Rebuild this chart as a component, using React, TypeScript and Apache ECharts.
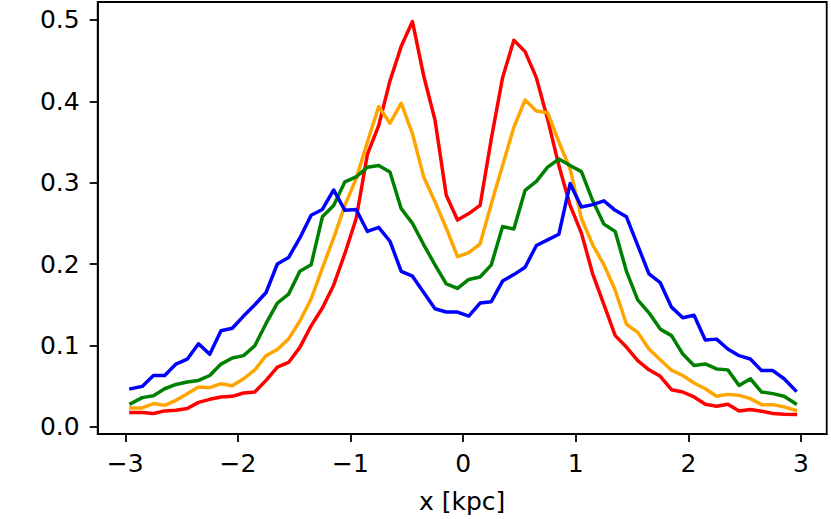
import React, { useEffect, useRef } from "react";
import * as echarts from "echarts";

const xCenters = [
  -2.95, -2.85, -2.75, -2.65, -2.55, -2.45, -2.35, -2.25, -2.15, -2.05,
  -1.95, -1.85, -1.75, -1.65, -1.55, -1.45, -1.35, -1.25, -1.15, -1.05,
  -0.95, -0.85, -0.75, -0.65, -0.55, -0.45, -0.35, -0.25, -0.15, -0.05,
  0.05, 0.15, 0.25, 0.35, 0.45, 0.55, 0.65, 0.75, 0.85, 0.95,
  1.05, 1.15, 1.25, 1.35, 1.45, 1.55, 1.65, 1.75, 1.85, 1.95,
  2.05, 2.15, 2.25, 2.35, 2.45, 2.55, 2.65, 2.75, 2.85, 2.95,
];

const redValues = [
  0.0175, 0.0175, 0.0163, 0.0195, 0.0203, 0.0224, 0.03, 0.0337, 0.0366, 0.0374,
  0.0415, 0.0427, 0.057, 0.0732, 0.079, 0.0976, 0.124, 0.146, 0.174, 0.213,
  0.256, 0.335, 0.37, 0.425, 0.4675, 0.498, 0.431, 0.377, 0.2845, 0.254,
  0.262, 0.272, 0.354, 0.429, 0.475, 0.461, 0.429, 0.378, 0.321, 0.272,
  0.238, 0.188, 0.15, 0.112, 0.098, 0.0813, 0.07, 0.062, 0.0455, 0.0427,
  0.0366, 0.0276, 0.0252, 0.0276, 0.0195, 0.0211, 0.0191, 0.0163, 0.0154, 0.015,
];

const orangeValues = [
  0.0232, 0.0232, 0.0285, 0.0264, 0.0325, 0.0407, 0.0488, 0.048, 0.0529, 0.0504,
  0.059, 0.07, 0.0874, 0.095, 0.108, 0.13, 0.157, 0.195, 0.232, 0.272,
  0.305, 0.35, 0.3935, 0.373, 0.3976, 0.36, 0.307, 0.2764, 0.244, 0.209,
  0.214, 0.2246, 0.274, 0.321, 0.368, 0.4016, 0.388, 0.386, 0.35, 0.317,
  0.256, 0.2236, 0.199, 0.1677, 0.126, 0.116, 0.0955, 0.0823, 0.0695, 0.063,
  0.0537, 0.0467, 0.0374, 0.0398, 0.0386, 0.0346, 0.0272, 0.0272, 0.0244, 0.0203,
];

const greenValues = [
  0.0285, 0.0358, 0.0382, 0.0467, 0.052, 0.0549, 0.0569, 0.063, 0.077, 0.0846,
  0.0874, 0.0996, 0.127, 0.152, 0.163, 0.191, 0.199, 0.258, 0.272, 0.301,
  0.307, 0.319, 0.321, 0.313, 0.268, 0.25, 0.2236, 0.199, 0.1756, 0.17,
  0.181, 0.184, 0.199, 0.246, 0.243, 0.2906, 0.3016, 0.319, 0.329, 0.321,
  0.3135, 0.278, 0.249, 0.24, 0.191, 0.156, 0.14, 0.12, 0.112, 0.0894,
  0.0752, 0.0772, 0.0711, 0.0699, 0.0508, 0.059, 0.0427, 0.0407, 0.0374, 0.0285,
];

const blueValues = [
  0.0467, 0.0496, 0.063, 0.063, 0.077, 0.083, 0.102, 0.089, 0.118, 0.121,
  0.136, 0.15, 0.165, 0.2, 0.208, 0.232, 0.26, 0.267, 0.291, 0.266,
  0.267, 0.24, 0.245, 0.228, 0.191, 0.185, 0.165, 0.145, 0.141, 0.141,
  0.136, 0.152, 0.1537, 0.179, 0.187, 0.196, 0.2228, 0.2296, 0.2366, 0.2988,
  0.27, 0.273, 0.2777, 0.266, 0.258, 0.2228, 0.188, 0.177, 0.147, 0.134,
  0.137, 0.1065, 0.1077, 0.0955, 0.0874, 0.0833, 0.069, 0.069, 0.059, 0.0447,
];

const xTicks = [-3, -2, -1, 0, 1, 2, 3];
const yTicks = [0, 0.1, 0.2, 0.3, 0.4, 0.5];

const seriesDefs = [
  { name: "red", color: "#ff0000", values: redValues },
  { name: "orange", color: "#ffa500", values: orangeValues },
  { name: "green", color: "#008000", values: greenValues },
  { name: "blue", color: "#0000ff", values: blueValues },
];

const FONT = "'DejaVu Sans', sans-serif";
const FS = 25;

export default function App() {
  const ref = useRef<HTMLDivElement>(null);
  useEffect(() => {
    if (!ref.current) return;
    const chart = echarts.init(ref.current, undefined, { renderer: "svg" });
    const option = {
      animation: false,
      backgroundColor: "#ffffff",
      grid: {
        left: 97.7,
        right: 4.3,
        top: 2,
        bottom: 81.7,
        show: true,
        borderColor: "#000",
        borderWidth: 1.8,
        backgroundColor: "transparent",
      },
      xAxis: {
        type: "value",
        min: -3.245,
        max: 3.228,
        splitLine: { show: false },
        axisLine: { show: true, onZero: false, lineStyle: { color: "#000", width: 1.8 } },
        axisTick: {
          show: true,
          length: 8,
          customValues: xTicks,
          lineStyle: { color: "#000", width: 1.8 },
        },
        axisLabel: {
          customValues: xTicks,
          fontFamily: FONT,
          fontSize: FS,
          color: "#000",
          margin: 17,
          formatter: (v: number) => (v < 0 ? "\u2212" + Math.abs(v) : String(v)),
        },
        name: "x [kpc]",
        nameLocation: "middle",
        nameGap: 55,
        nameTextStyle: { fontFamily: FONT, fontSize: FS, color: "#000" },
      },
      yAxis: {
        type: "value",
        min: -0.0089,
        max: 0.522,
        splitLine: { show: false },
        axisLine: { show: true, onZero: false, lineStyle: { color: "#000", width: 1.8 } },
        axisTick: {
          show: true,
          length: 8,
          customValues: yTicks,
          lineStyle: { color: "#000", width: 1.8 },
        },
        axisLabel: {
          customValues: yTicks,
          fontFamily: FONT,
          fontSize: FS,
          color: "#000",
          margin: 18,
          formatter: (v: number) => v.toFixed(1),
        },
      },
      series: seriesDefs.map((s) => ({
        name: s.name,
        type: "line",
        showSymbol: false,
        symbol: "none",
        data: xCenters.map((x, i) => [x, s.values[i]]),
        lineStyle: { color: s.color, width: 3.5, join: "round", cap: "square" },
        itemStyle: { color: s.color },
        emphasis: { disabled: true },
        silent: true,
      })),
    };
    chart.setOption(option as any);
    return () => chart.dispose();
  }, []);
  return (
    <div
      ref={ref}
      style={{ position: "absolute", left: 0, top: 0, width: 831, height: 519 }}
    />
  );
}
